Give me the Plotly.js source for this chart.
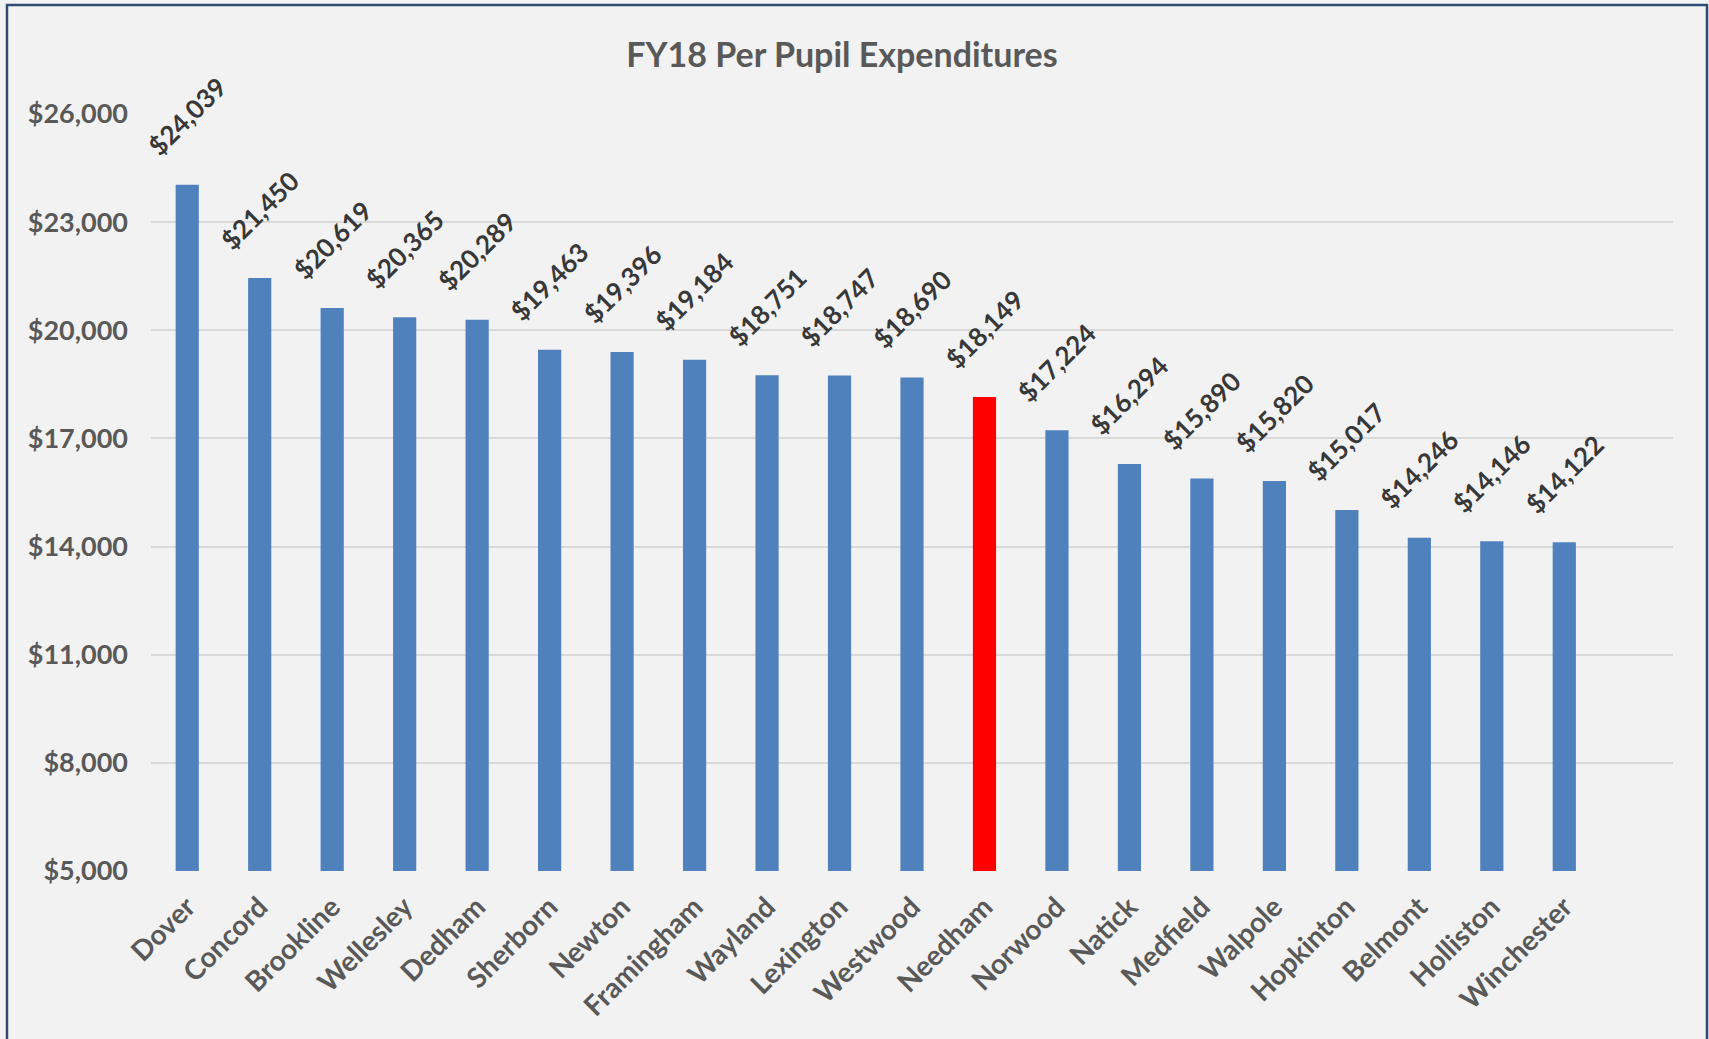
<!DOCTYPE html>
<html>
<head>
<meta charset="utf-8">
<script src="https://cdn.plot.ly/plotly-3.0.1.min.js"></script>
<style>
  html, body { margin: 0; padding: 0; background: #F2F2F2; }
  #chart { width: 1709px; height: 1039px; }
</style>
</head>
<body>
<div id="chart"></div>
<script>
// towns, ordered by spending
var towns = ["Dover", "Concord", "Brookline", "Wellesley", "Dedham", "Sherborn", "Newton",
  "Framingham", "Wayland", "Lexington", "Westwood", "Needham", "Norwood", "Natick",
  "Medfield", "Walpole", "Hopkinton", "Belmont", "Holliston", "Winchester"];

// FY18 per pupil expenditures ($)
var perPupil = [24039, 21450, 20619, 20365, 20289, 19463, 19396, 19184, 18751, 18747,
  18690, 18149, 17224, 16294, 15890, 15820, 15017, 14246, 14146, 14122];

var highlightTown = "Needham";

var yTicks = [5000, 8000, 11000, 14000, 17000, 20000, 23000, 26000];

var font = "Lato, 'Open Sans', sans-serif";

var trace = {
  x: towns,
  y: perPupil,
  type: "bar",
  width: 0.32,
  marker: {
    color: towns.map(t => t === highlightTown ? "#FF0000" : "#4F81BD")
  },
  hoverinfo: "x+y"
};

// value labels above the bars, rotated like the excel ones
var valueLabels = towns.map((t, i) => ({
  x: t,
  y: perPupil[i],
  xref: "x", yref: "y",
  text: "$" + perPupil[i].toLocaleString("en-US"),
  showarrow: false,
  textangle: -45,
  xanchor: "center",
  yanchor: "bottom",
  yshift: 20,
  font: { family: font, size: 26, color: "#383838", weight: "bold" }
}));

var layout = {
  width: 1709,
  height: 1039,
  paper_bgcolor: "#F2F2F2",
  plot_bgcolor: "#F2F2F2",
  margin: { l: 151, r: 36, t: 114, b: 168 },
  showlegend: false,
  title: {
    text: "FY18 Per Pupil Expenditures",
    font: { family: font, size: 34, color: "#595959", weight: "bold" },
    x: 0.4927,
    xref: "container",
    xanchor: "center",
    y: 1 - 55 / 1039,
    yref: "container",
    yanchor: "middle"
  },
  xaxis: {
    type: "category",
    range: [-0.5, 20.5],
    tickangle: -45,
    tickfont: { family: font, size: 28, color: "#595959", weight: "bold" },
    ticks: "",
    ticklabelstandoff: 13,
    showgrid: false,
    showline: false,
    zeroline: false
  },
  yaxis: {
    range: [5000, 26000],
    tickvals: yTicks,
    tickformat: "$,",
    tickfont: { family: font, size: 27, color: "#595959", weight: "bold" },
    ticks: "",
    ticklabelstandoff: 22,
    gridcolor: "#D9D9D9",
    gridwidth: 2,
    showline: false,
    zeroline: false
  },
  annotations: valueLabels,
  shapes: [{
    type: "rect",
    xref: "paper", yref: "paper",
    x0: (7 - 151) / 1522, x1: (1707 - 151) / 1522,
    y0: -0.25, y1: (871 - 5) / 757,
    line: { color: "#2F4B73", width: 2.5 },
    fillcolor: "rgba(0,0,0,0)",
    layer: "above"
  }]
};

Plotly.newPlot("chart", [trace], layout, { displayModeBar: false });
</script>
</body>
</html>
